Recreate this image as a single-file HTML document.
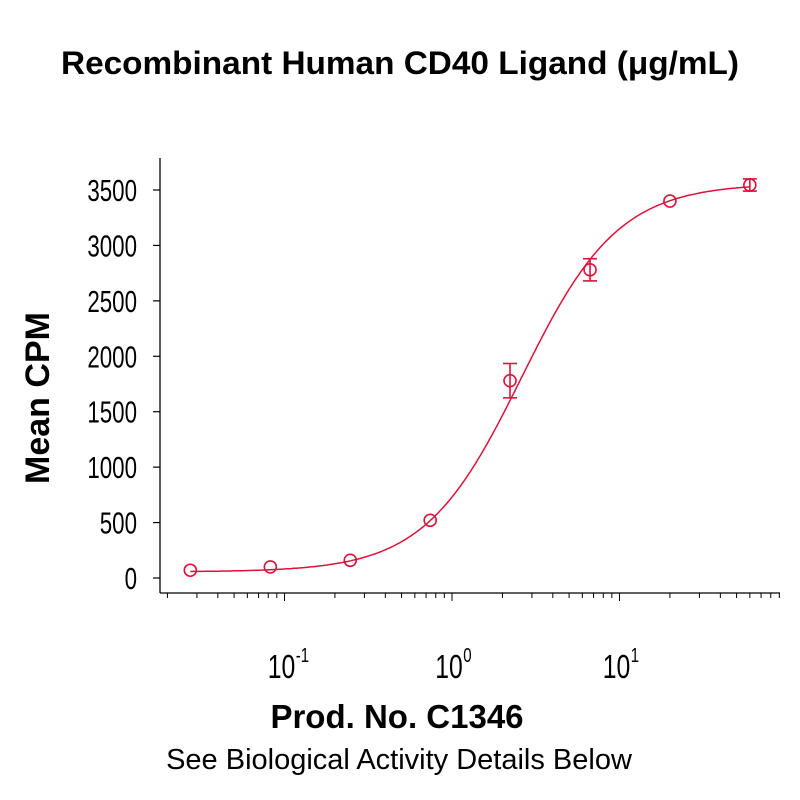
<!DOCTYPE html>
<html><head><meta charset="utf-8"><style>
body{margin:0;background:#fff}
svg{display:block}
.t{font-family:"Liberation Sans",sans-serif}
</style></head><body>
<svg id="c" width="800" height="800" xmlns="http://www.w3.org/2000/svg">
<text class="t" x="400" y="74" text-anchor="middle" font-size="32" font-weight="bold" textLength="678" lengthAdjust="spacingAndGlyphs">Recombinant Human CD40 Ligand (μg/mL)</text>
<text class="t" transform="translate(49,398) rotate(-90)" text-anchor="middle" font-size="34" font-weight="bold">Mean CPM</text>
<text class="t" x="397" y="728" text-anchor="middle" font-size="33" font-weight="bold">Prod. No. C1346</text>
<text class="t" x="399" y="769" text-anchor="middle" font-size="29">See Biological Activity Details Below</text>
<g id="axes"></g><g id="marks"></g>
</svg>
<script>
const xValues=[0.0274,0.0823,0.247,0.741,2.22,6.67,20,60];
const yValues=[70,100,160,520,1780,2780,3400,3545];
const yErrors=[0,0,0,0,155,100,0,55];
const fitParams=[55,3560,2.6,1.5]; // bottom, top, EC50, hill
const yTicks=[0,500,1000,1500,2000,2500,3000,3500];
const xDecades=[-1,0,1];
const NS="http://www.w3.org/2000/svg";
const X=v=>452+Math.log10(v)*167.5;
const Y=v=>578-v*(388/3500);
const red="#e0103a";
function mk(tag,attrs,parent){const e=document.createElementNS(NS,tag);for(const k in attrs)e.setAttribute(k,attrs[k]);parent.appendChild(e);return e;}
const ax=document.getElementById('axes'),mg=document.getElementById('marks');
let e=mk('line',{x1:160,y1:158,x2:160,y2:593,stroke:'#000','stroke-width':1.3},ax);


e=mk('line',{x1:160,y1:593,x2:780,y2:593,stroke:'#000','stroke-width':1.3},ax);


yTicks.forEach(v=>{
 mk('line',{x1:153,y1:Y(v),x2:160,y2:Y(v),stroke:'#000','stroke-width':1.2},ax);
 const t=mk('text',{x:0,y:0,'font-size':31,'text-anchor':'end',transform:`translate(137,${Y(v)+11}) scale(0.72,1)`,class:'t'},ax);
 t.textContent=v;
 
 
});
for(let d=-2;d<=1;d++){for(let m=1;m<10;m++){const v=m*Math.pow(10,d);const x=X(v);if(x<163||x>780)continue;
 mk('line',{x1:x,y1:593,x2:x,y2:m==1?601:598,stroke:'#000','stroke-width':1},ax);}}
xDecades.forEach(d=>{
 const g=mk('g',{transform:`translate(${X(Math.pow(10,d))},678) scale(0.75,1)`},ax);
 
 
 const t=mk('text',{x:-4,y:0,'font-size':33,'text-anchor':'middle',class:'t'},g);t.textContent='10';
 const s=mk('text',{x:15,y:-16,'font-size':20,'text-anchor':'start',class:'t'},g);s.textContent=String(d);
});
const [b,tp,ec,h]=fitParams;let p='';
for(let i=0;i<=300;i++){const lx=Math.log10(0.0274)+i*(Math.log10(60)-Math.log10(0.0274))/300;const v=Math.pow(10,lx);
 const y=b+(tp-b)/(1+Math.pow(ec/v,h));p+=(i?'L':'M')+X(v).toFixed(1)+','+Y(y).toFixed(1);}
e=mk('path',{d:p,fill:'none',stroke:red,'stroke-width':1.5},mg);


xValues.forEach((xv,i)=>{
 const cx=X(xv),cy=Y(yValues[i]),e1=Y(yValues[i]+yErrors[i]),e2=Y(yValues[i]-yErrors[i]);
 const g=mk('g',{stroke:red,'stroke-width':1.6,fill:'none'},mg);
 
 
 if(yErrors[i]>0){
 mk('line',{x1:cx,y1:e1,x2:cx,y2:e2},g);
 mk('line',{x1:cx-7,y1:e1,x2:cx+7,y2:e1},g);
 mk('line',{x1:cx-7,y1:e2,x2:cx+7,y2:e2},g);}
 mk('circle',{cx:cx,cy:cy,r:6},g);
});
</script>
</body></html>
